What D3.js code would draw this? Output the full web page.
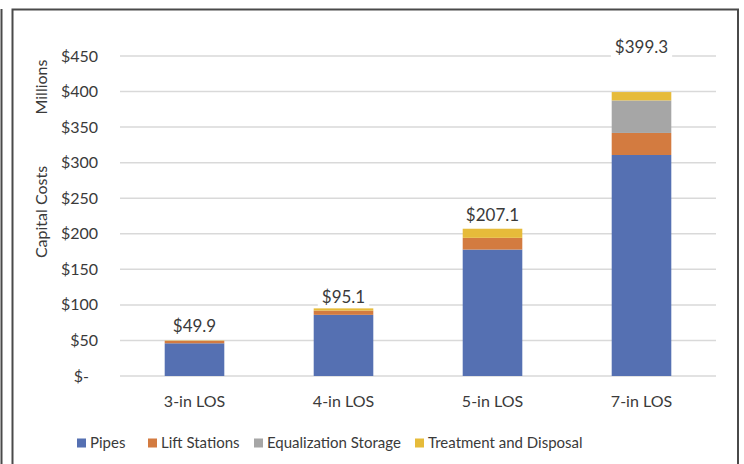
<!DOCTYPE html>
<html><head><meta charset="utf-8">
<script src="https://cdn.jsdelivr.net/npm/d3@7"></script>
<style>
html,body{margin:0;padding:0;background:#fff;}
svg{display:block;font-family:Lato,"Noto Sans",sans-serif;}
</style></head>
<body><svg id="c" width="744" height="464"></svg>
<script>
const categories = ["3-in LOS","4-in LOS","5-in LOS","7-in LOS"];
const seriesNames = ["Pipes","Lift Stations","Equalization Storage","Treatment and Disposal"];
const pipes = [46.0, 86.0, 177.8, 310.8];
const liftStations = [3.4, 6.0, 16.5, 31.0];
const equalizationStorage = [0, 0, 0, 45.7];
const treatmentDisposal = [0.5, 3.1, 12.8, 11.8];
const totals = [49.9, 95.1, 207.1, 399.3];
const yTicks = [0,50,100,150,200,250,300,350,400,450];
const colors = ["#5570b2","#d37b40","#a6a6a6","#e6bb3a"];

const svg = d3.select("#c");
const W = 744, H = 464;
const FS = 16;
const x = d3.scaleBand().domain(categories).range([120,716]).paddingInner(0.6).paddingOuter(0.3);
const y = d3.scaleLinear().domain([0,450]).range([376,56]);

// frames
svg.append("line").attr("x1",1.5).attr("x2",1.5).attr("y1",9).attr("y2",H).attr("stroke","#4a4a4a").attr("stroke-width",2);
svg.append("path").attr("d",`M12.5,${H+5}V9.5H738V${H+5}`).attr("fill","none").attr("stroke","#4a4a4a").attr("stroke-width",2);

// gridlines
svg.append("g").selectAll("line").data(yTicks).join("line")
  .attr("x1",120).attr("x2",716).attr("y1",d=>y(d)).attr("y2",d=>y(d))
  .attr("stroke","#d9d9d9").attr("stroke-width",1.5);

// y tick labels
svg.append("g").selectAll("text").data(yTicks).join("text")
  .attr("x",d=>d===0?89:98).attr("y",d=>y(d)).attr("dy","0.35em")
  .attr("text-anchor","end").attr("font-size",FS).attr("fill","#3a3a3a")
  .text(d=>d===0?"$-":"$"+d);

// axis titles
svg.append("text").attr("transform","translate(47,212) rotate(-90)").attr("text-anchor","middle")
  .attr("font-size",FS).attr("fill","#3a3a3a").text("Capital Costs");
svg.append("text").attr("transform","translate(47,87) rotate(-90)").attr("text-anchor","middle")
  .attr("font-size",FS).attr("fill","#3a3a3a").text("Millions");

// stacked bars
const rows = categories.map((c,i)=>({cat:c,
  "Pipes":pipes[i],"Lift Stations":liftStations[i],
  "Equalization Storage":equalizationStorage[i],"Treatment and Disposal":treatmentDisposal[i]}));
const stack = d3.stack().keys(seriesNames)(rows);
svg.append("g").selectAll("g").data(stack).join("g").attr("fill",(d,i)=>colors[i])
  .selectAll("rect").data(d=>d).join("rect")
  .attr("x",d=>x(d.data.cat)).attr("width",x.bandwidth())
  .attr("y",d=>y(d[1])).attr("height",d=>Math.max(0,y(d[0])-y(d[1])));

// total labels
const labelDy = [14,11,14,45];
const lg = svg.append("g");
categories.forEach((c,i)=>{
  const cx = x(c)+x.bandwidth()/2, cy = y(totals[i]) - labelDy[i];
  const t = lg.append("text").attr("x",cx).attr("y",cy).attr("dy","0.35em")
    .attr("text-anchor","middle").attr("font-size",17).attr("fill","#3a3a3a")
    .text("$"+totals[i].toFixed(1));
  const bb = t.node().getBBox();
  lg.insert("rect","text").attr("x",bb.x-4).attr("y",bb.y).attr("width",bb.width+8).attr("height",bb.height).attr("fill","#fff");
});

// category labels
svg.append("g").selectAll("text").data(categories).join("text")
  .attr("x",d=>x(d)+x.bandwidth()/2).attr("y",401).attr("dy","0.35em")
  .attr("text-anchor","middle").attr("font-size",FS).attr("fill","#3a3a3a").text(d=>d);

// legend
const legX = [77,148,254,415];
const leg = svg.append("g").selectAll("g").data(seriesNames).join("g")
  .attr("transform",(d,i)=>`translate(${legX[i]},443)`);
leg.append("rect").attr("x",0).attr("y",-4.5).attr("width",9).attr("height",9).attr("fill",(d,i)=>colors[i]);
leg.append("text").attr("x",13).attr("y",0).attr("dy","0.35em").attr("font-size",15).attr("fill","#3a3a3a").text(d=>d);
</script></body></html>
